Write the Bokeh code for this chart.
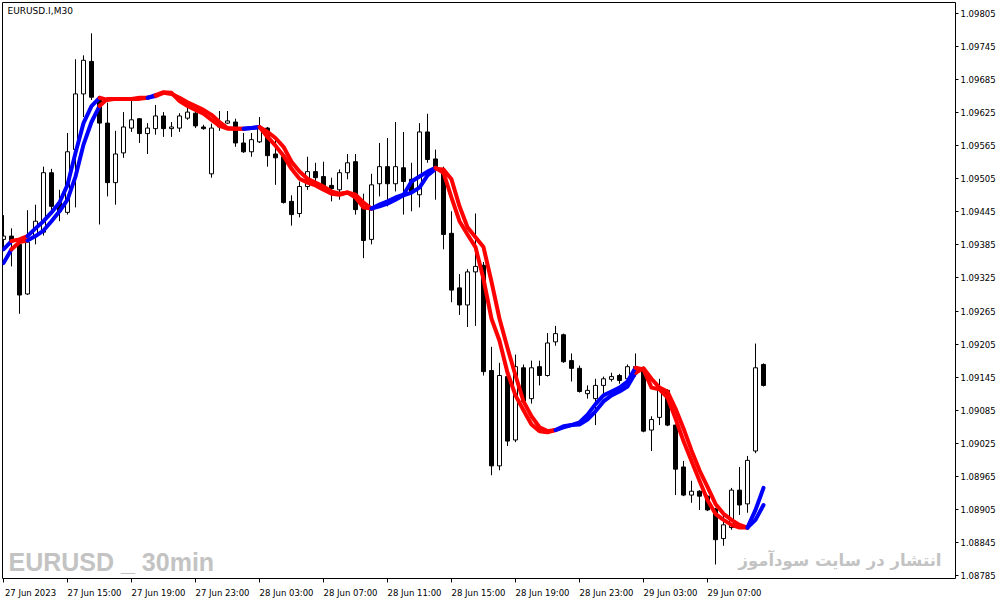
from bokeh.plotting import figure
from bokeh.models import Range1d, FixedTicker, PrintfTickFormatter, Label, ColumnDataSource
from bokeh.embed import file_html
from bokeh.resources import INLINE

# ---------------- data (EURUSD.I, M30, one bar per 30 minutes) ----------------
x_tick_bars = [0, 8, 16, 24, 32, 40, 48, 56, 64, 72, 80, 88]
x_tick_labels = ["27 Jun 2023", "27 Jun 15:00", "27 Jun 19:00", "27 Jun 23:00",
                 "28 Jun 03:00", "28 Jun 07:00", "28 Jun 11:00", "28 Jun 15:00",
                 "28 Jun 19:00", "28 Jun 23:00", "29 Jun 03:00", "29 Jun 07:00"]
y_ticks = [1.08785, 1.08845, 1.08905, 1.08965, 1.09025, 1.09085, 1.09145, 1.09205,
           1.09265, 1.09325, 1.09385, 1.09445, 1.09505, 1.09565, 1.09625, 1.09685,
           1.09745, 1.09805]

opens = [1.09395, 1.09401, 1.09386, 1.09296, 1.09402, 1.09408, 1.09516, 1.09462, 1.09444, 1.09558,
         1.09659, 1.09718, 1.09648, 1.09606, 1.09498, 1.09552, 1.09597, 1.09614, 1.09587, 1.09596,
         1.09619, 1.09596, 1.09597, 1.09615, 1.09624, 1.09599, 1.09514, 1.09599, 1.09606, 1.09608,
         1.09570, 1.09554, 1.09572, 1.09597, 1.09550, 1.09545, 1.09464, 1.09442, 1.09491, 1.09518,
         1.09509, 1.09493, 1.09485, 1.09516, 1.09536, 1.09453, 1.09395, 1.09496, 1.09527, 1.09496,
         1.09525, 1.09504, 1.09476, 1.09590, 1.09541, 1.09518, 1.09406, 1.09307, 1.09276, 1.09336,
         1.09348, 1.09157, 1.08984, 1.09146, 1.09031, 1.09162, 1.09106, 1.09164, 1.09148, 1.09209,
         1.09222, 1.09175, 1.09161, 1.09115, 1.09106, 1.09130, 1.09141, 1.09148, 1.09142, 1.09164,
         1.09161, 1.09049, 1.09072, 1.09121, 1.09058, 1.08982, 1.08931, 1.08938, 1.08929, 1.08906,
         1.08852, 1.08872, 1.08940, 1.08915, 1.09011, 1.09168]
highs = [1.09439, 1.09415, 1.09390, 1.09448, 1.09458, 1.09527, 1.09523, 1.09485, 1.09588, 1.09722,
         1.09729, 1.09769, 1.09653, 1.09643, 1.09592, 1.09626, 1.09648, 1.09615, 1.09606, 1.09639,
         1.09626, 1.09608, 1.09624, 1.09635, 1.09635, 1.09603, 1.09605, 1.09628, 1.09628, 1.09614,
         1.09588, 1.09588, 1.09617, 1.09599, 1.09576, 1.09552, 1.09475, 1.09500, 1.09545, 1.09534,
         1.09536, 1.09507, 1.09522, 1.09550, 1.09550, 1.09478, 1.09514, 1.09570, 1.09579, 1.09608,
         1.09590, 1.09534, 1.09606, 1.09623, 1.09558, 1.09527, 1.09446, 1.09332, 1.09341, 1.09442,
         1.09354, 1.09200, 1.09171, 1.09155, 1.09186, 1.09168, 1.09175, 1.09175, 1.09225, 1.09238,
         1.09224, 1.09188, 1.09166, 1.09130, 1.09142, 1.09146, 1.09153, 1.09151, 1.09168, 1.09188,
         1.09164, 1.09074, 1.09142, 1.09123, 1.09059, 1.08993, 1.08957, 1.08940, 1.08931, 1.08908,
         1.08893, 1.08944, 1.08982, 1.09002, 1.09206, 1.09170]
lows = [1.09377, 1.09346, 1.09260, 1.09294, 1.09386, 1.09402, 1.09444, 1.09428, 1.09440, 1.09453,
        1.09617, 1.09648, 1.09422, 1.09473, 1.09458, 1.09543, 1.09590, 1.09570, 1.09550, 1.09585,
        1.09581, 1.09581, 1.09590, 1.09612, 1.09597, 1.09594, 1.09507, 1.09592, 1.09605, 1.09563,
        1.09552, 1.09545, 1.09570, 1.09527, 1.09494, 1.09460, 1.09420, 1.09435, 1.09485, 1.09491,
        1.09485, 1.09464, 1.09467, 1.09504, 1.09440, 1.09361, 1.09386, 1.09473, 1.09455, 1.09482,
        1.09440, 1.09446, 1.09453, 1.09534, 1.09467, 1.09377, 1.09281, 1.09258, 1.09236, 1.09238,
        1.09148, 1.08967, 1.08976, 1.09020, 1.09027, 1.09097, 1.09097, 1.09130, 1.09146, 1.09202,
        1.09171, 1.09137, 1.09117, 1.09106, 1.09058, 1.09115, 1.09137, 1.09133, 1.09139, 1.09146,
        1.09045, 1.09011, 1.09058, 1.09056, 1.08931, 1.08929, 1.08917, 1.08904, 1.08902, 1.08805,
        1.08839, 1.08868, 1.08895, 1.08899, 1.09007, 1.09128]
closes = [1.09401, 1.09393, 1.09294, 1.09390, 1.09428, 1.09516, 1.09455, 1.09446, 1.09554, 1.09659,
          1.09720, 1.09653, 1.09606, 1.09498, 1.09550, 1.09599, 1.09612, 1.09587, 1.09597, 1.09619,
          1.09596, 1.09599, 1.09619, 1.09626, 1.09601, 1.09596, 1.09597, 1.09608, 1.09610, 1.09570,
          1.09554, 1.09576, 1.09599, 1.09547, 1.09543, 1.09462, 1.09440, 1.09491, 1.09518, 1.09507,
          1.09491, 1.09487, 1.09516, 1.09534, 1.09449, 1.09393, 1.09494, 1.09527, 1.09496, 1.09527,
          1.09500, 1.09480, 1.09590, 1.09540, 1.09527, 1.09404, 1.09303, 1.09276, 1.09336, 1.09346,
          1.09155, 1.08984, 1.09148, 1.09029, 1.09164, 1.09101, 1.09162, 1.09148, 1.09207, 1.09224,
          1.09173, 1.09161, 1.09119, 1.09121, 1.09130, 1.09142, 1.09146, 1.09139, 1.09164, 1.09151,
          1.09047, 1.09068, 1.09123, 1.09058, 1.08978, 1.08931, 1.08938, 1.08929, 1.08904, 1.08850,
          1.08877, 1.08940, 1.08913, 1.08994, 1.09162, 1.09130]

fast_ma = [1.09377, 1.09392, 1.09395, 1.09401, 1.09415, 1.09428, 1.09444, 1.09462, 1.09494, 1.09552,
           1.09606, 1.09637, 1.09652, 1.09648, 1.09650, 1.09650, 1.09650, 1.09652, 1.09652, 1.09657,
           1.09662, 1.09661, 1.09646, 1.09637, 1.09630, 1.09623, 1.09612, 1.09601, 1.09596, 1.09596,
           1.09596, 1.09597, 1.09599, 1.09581, 1.09565, 1.09547, 1.09523, 1.09505, 1.09498, 1.09493,
           1.09485, 1.09478, 1.09476, 1.09480, 1.09471, 1.09453, 1.09451, 1.09458, 1.09464, 1.09471,
           1.09476, 1.09500, 1.09509, 1.09518, 1.09525, 1.09516, 1.09471, 1.09428, 1.09404, 1.09381,
           1.09323, 1.09251, 1.09211, 1.09153, 1.09112, 1.09085, 1.09059, 1.09047, 1.09045, 1.09049,
           1.09056, 1.09058, 1.09063, 1.09077, 1.09096, 1.09112, 1.09119, 1.09126, 1.09137, 1.09162,
           1.09159, 1.09126, 1.09123, 1.09108, 1.09070, 1.09029, 1.08993, 1.08957, 1.08922, 1.08897,
           1.08886, 1.08877, 1.08872, 1.08872, 1.08904, 1.08944]
slow_ma = [1.09352, 1.09377, 1.09390, 1.09393, 1.09401, 1.09411, 1.09428, 1.09446, 1.09467, 1.09509,
           1.09567, 1.09608, 1.09637, 1.09650, 1.09650, 1.09650, 1.09650, 1.09650, 1.09652, 1.09655,
           1.09661, 1.09659, 1.09652, 1.09644, 1.09637, 1.09630, 1.09621, 1.09608, 1.09597, 1.09596,
           1.09596, 1.09597, 1.09599, 1.09590, 1.09579, 1.09563, 1.09536, 1.09518, 1.09505, 1.09498,
           1.09491, 1.09482, 1.09478, 1.09480, 1.09476, 1.09462, 1.09451, 1.09455, 1.09460, 1.09467,
           1.09475, 1.09480, 1.09489, 1.09511, 1.09523, 1.09522, 1.09504, 1.09455, 1.09417, 1.09399,
           1.09381, 1.09318, 1.09251, 1.09198, 1.09148, 1.09101, 1.09074, 1.09054, 1.09047, 1.09049,
           1.09054, 1.09058, 1.09059, 1.09068, 1.09083, 1.09101, 1.09112, 1.09119, 1.09128, 1.09153,
           1.09161, 1.09142, 1.09126, 1.09119, 1.09088, 1.09052, 1.09012, 1.08976, 1.08946, 1.08915,
           1.08897, 1.08886, 1.08877, 1.08872, 1.08886, 1.08913]

# trend state of the segment that ends at each bar: "U" (blue) / "D" (red)
trend = ["U", "U", "D", "D", "U", "U", "U", "U", "U", "U", "U", "U", "U",
         "D", "D", "D", "D", "D", "D",
         "U",
         "D", "D", "D", "D", "D", "D", "D", "D", "D", "D", "D",
         "U", "U",
         "D", "D", "D", "D", "D", "D", "D", "D", "D", "D", "D", "D", "D", "D",
         "U", "U", "U", "U", "U", "U", "U", "U",
         "D", "D", "D", "D", "D", "D", "D", "D", "D", "D", "D", "D", "D", "D", "D",
         "U", "U", "U", "U", "U", "U", "U", "U", "U", "U",
         "D", "D", "D", "D", "D", "D", "D", "D", "D", "D", "D", "D", "D", "D",
         "U", "U"]

# ---------------- styling ----------------
UP_COLOR = "#0000ff"
DOWN_COLOR = "#ff0000"
LABEL_FONT = "DejaVu Sans"
LABEL_SIZE = "8.5px"
X_LABEL_SHIFT = 3.375  # labels start at their tick (left aligned, MT4 style)

bars = list(range(len(opens)))

p = figure(width=1000, height=600,
           x_range=Range1d(-0.125, 119.0),
           y_range=Range1d(1.087796, 1.098249),
           output_backend="svg", toolbar_location=None,
           y_axis_location="right",
           min_border_left=2, min_border_top=2,
           min_border_right=45, min_border_bottom=19,
           background_fill_color="white", border_fill_color="white")

p.grid.visible = False
p.outline_line_color = "black"
p.outline_line_width = 1

# candles
src = ColumnDataSource(dict(
    x=bars,
    top=[max(o, c) for o, c in zip(opens, closes)],
    bottom=[min(o, c) for o, c in zip(opens, closes)],
    high=highs, low=lows,
    fill=["white" if c >= o else "black" for o, c in zip(opens, closes)],
))
p.segment(x0="x", y0="high", x1="x", y1="low", source=src,
          line_color="black", line_width=1)
p.vbar(x="x", width=0.5, top="top", bottom="bottom", source=src,
       fill_color="fill", line_color="black", line_width=1)


def colored_runs(vals):
    xs, ys, cs = [], [], []
    n = len(vals)
    i = 1
    while i < n:
        c = trend[i]
        j = i
        while j + 1 < n and trend[j + 1] == c:
            j += 1
        xs.append(bars[i - 1:j + 1])
        ys.append(vals[i - 1:j + 1])
        cs.append(UP_COLOR if c == "U" else DOWN_COLOR)
        i = j + 1
    return xs, ys, cs


for series in (slow_ma, fast_ma):
    xs, ys, cs = colored_runs(series)
    p.multi_line(xs=xs, ys=ys, line_color=cs, line_width=4,
                 line_cap="round", line_join="round")

# x axis: labels left-aligned after each tick (ticks drawn as minor ticks)
xax = p.xaxis[0]
xax.ticker = FixedTicker(ticks=[b + X_LABEL_SHIFT for b in x_tick_bars],
                         minor_ticks=x_tick_bars)
xax.major_label_overrides = {b + X_LABEL_SHIFT: lab for b, lab in zip(x_tick_bars, x_tick_labels)}
xax.major_tick_out = 0
xax.major_tick_in = 0
xax.minor_tick_out = 4
xax.minor_tick_in = 0
xax.minor_tick_line_color = "black"
xax.axis_line_color = None
xax.major_label_standoff = 5
xax.major_label_text_font = LABEL_FONT
xax.major_label_text_font_size = LABEL_SIZE
xax.major_label_text_color = "black"

yax = p.yaxis[0]
yax.ticker = FixedTicker(ticks=y_ticks)
yax.formatter = PrintfTickFormatter(format="%.5f")
yax.major_tick_out = 3
yax.major_tick_in = 0
yax.minor_tick_out = 0
yax.minor_tick_in = 0
yax.axis_line_color = None
yax.major_label_standoff = 2
yax.major_label_text_font = LABEL_FONT
yax.major_label_text_font_size = LABEL_SIZE
yax.major_label_text_color = "black"

# texts inside the chart
p.add_layout(Label(x=0.5, y=1.098177, text="EURUSD.I,M30", text_baseline="top",
                   text_font=LABEL_FONT, text_font_size="9px", text_color="black"))
p.add_layout(Label(x=0.625, y=1.088087, text="EURUSD _ 30min", text_baseline="alphabetic",
                   text_font="Liberation Sans", text_font_style="bold",
                   text_font_size="25px", text_color="#c3c3c3"))
p.add_layout(Label(x=117.25, y=1.088123, text="انتشار در سایت سودآموز", text_align="right",
                   text_baseline="alphabetic", text_font="DejaVu Sans", text_font_style="bold",
                   text_font_size="16.5px", text_color="#c3c3c3"))

open("out.html", "w").write(file_html(p, INLINE))
